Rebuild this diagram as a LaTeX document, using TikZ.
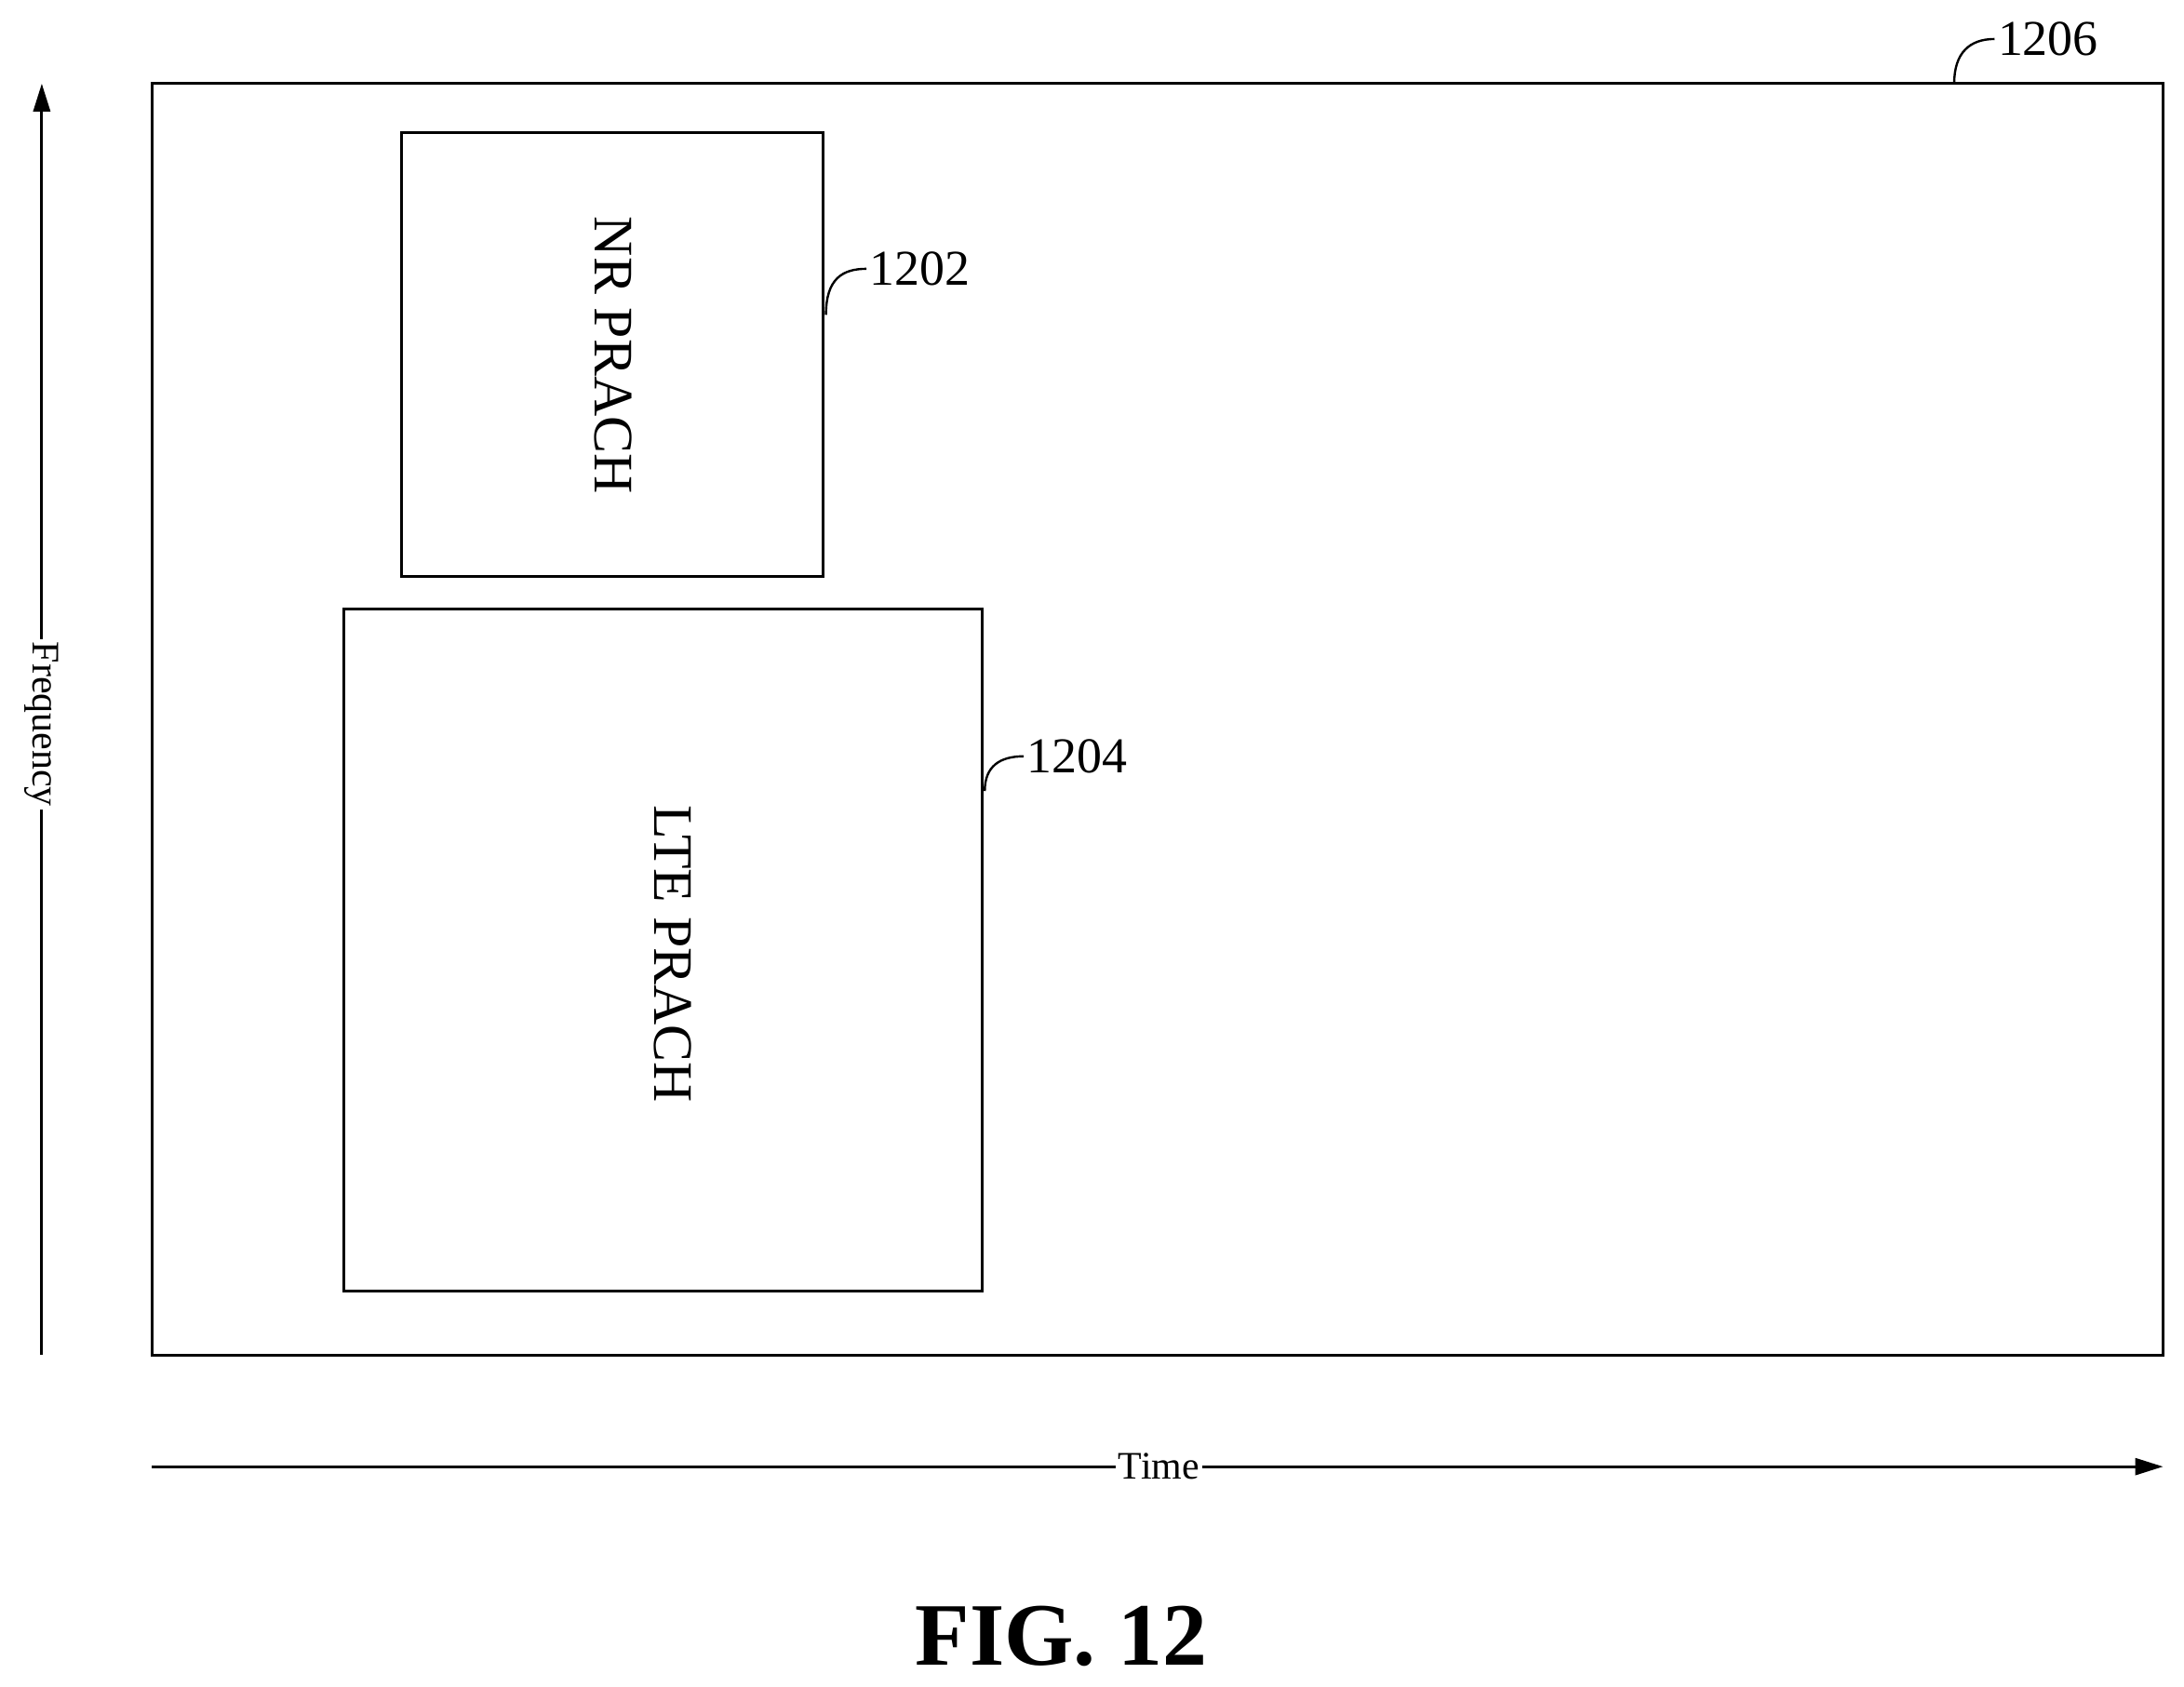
\documentclass[tikz,border=0pt]{standalone}
\usepackage{fontspec}
\setmainfont{Liberation Serif}
\usetikzlibrary{arrows.meta}
\begin{document}
\begin{tikzpicture}[x=0.5pt,y=-0.5pt,
  box/.style={draw,line width=1pt},
  lab/.style={font=\fontsize{18}{20}\selectfont,inner sep=1pt},
  lead/.style={line width=0.8pt},
  ax/.style={line width=1pt,-{Triangle[length=10pt,width=6pt]}}]
\useasboundingbox (0,0) rectangle (1568,1211);
\draw[box] (109,60) rectangle (1553,973);
\draw[box] (288,95) rectangle (591,414);
\draw[box] (247,437) rectangle (705,927);
\node[rotate=-90,font=\fontsize{20}{22}\selectfont] (nr) at (440,255) {NR PRACH};
\node[rotate=-90,font=\fontsize{20}{22}\selectfont] (lte) at (483,685) {LTE PRACH};
\node[lab,anchor=west] (l1202) at (622,193) {1202};
\node[lab,anchor=west] (l1204) at (735,543) {1204};
\node[lab,anchor=west] (l1206) at (1432,28) {1206};
\coordinate (c1202) at (593,226);
\coordinate (c1204) at (707,568);
\coordinate (c1206) at (1403,60);
\draw[lead] (c1202) .. controls (593,200) and (605,193) .. (l1202.west);
\draw[lead] (c1204) .. controls (707,550) and (718,543) .. (l1204.west);
\draw[lead] (c1206) .. controls (1403,38) and (1414,28) .. (l1206.west);
\coordinate (f0) at (30,973); \coordinate (f1) at (30,60);
\draw[ax] (f0) -- (f1);
\node[rotate=-90,fill=white,inner sep=1pt,font=\fontsize{14}{16}\selectfont] (freq) at (30,520) {Frequency};
\coordinate (t0) at (109,1053); \coordinate (t1) at (1553,1053);
\draw[ax] (t0) -- (t1);
\node[fill=white,inner sep=1pt,font=\fontsize{14}{16}\selectfont] (time) at (832,1053) {Time};
\node[font=\fontsize{32}{36}\selectfont\bfseries] (fig) at (762,1175) {FIG. 12};
\end{tikzpicture}
\end{document}
